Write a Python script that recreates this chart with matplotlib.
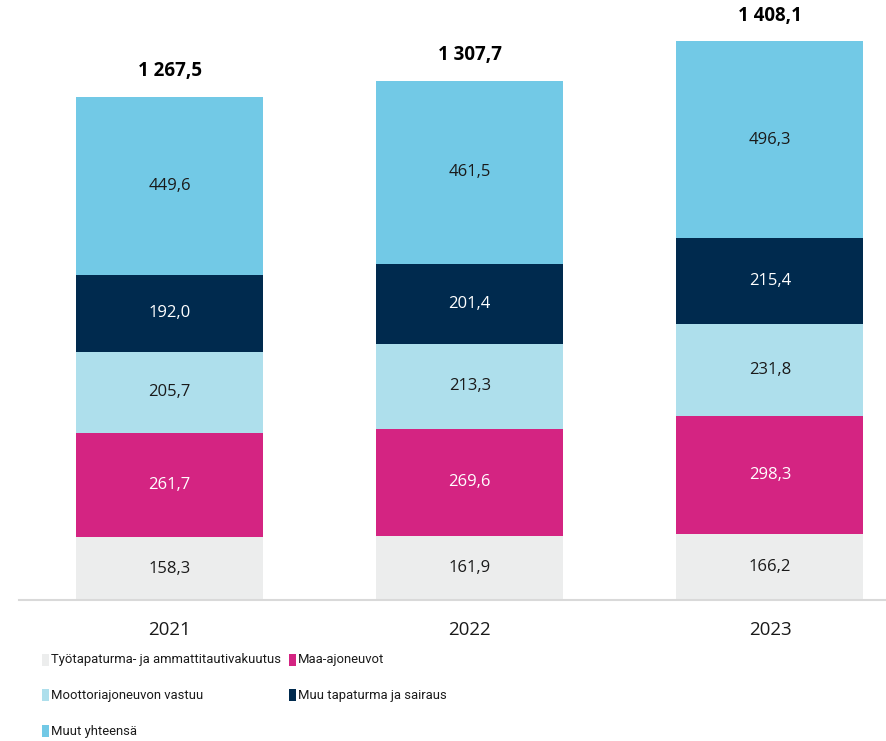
import matplotlib.pyplot as plt
from matplotlib.patches import Rectangle
import numpy as np

plt.rcParams['font.family'] = ['Open Sans', 'DejaVu Sans']

years = ["2021", "2022", "2023"]
series_names = [
    "Työtapaturma- ja ammattitautivakuutus",
    "Maa-ajoneuvot",
    "Moottoriajoneuvon vastuu",
    "Muu tapaturma ja sairaus",
    "Muut yhteensä",
]
tyotapaturma = [158.3, 161.9, 166.2]
maa_ajoneuvot = [261.7, 269.6, 298.3]
moottori = [205.7, 213.3, 231.8]
muu_tapaturma = [192.0, 201.4, 215.4]
muut = [449.6, 461.5, 496.3]
totals = [1267.5, 1307.7, 1408.1]

colors = ["#ECEDED", "#D42482", "#AEDFEC", "#002A4E", "#72C9E6"]
text_colors = ["#1a1a1a", "white", "#1a1a1a", "white", "#1a1a1a"]

def fi(v):
    s = f"{v:,.1f}"
    return s.replace(",", " ").replace(".", ",")

W, H = 887, 741
fig = plt.figure(figsize=(W / 100, H / 100), dpi=100)
ax = fig.add_axes([0.0214, 0.1903, 0.9786, 0.8036])

x = np.arange(len(years))
bottom = np.zeros(len(years))
for vals, col, tc in zip([tyotapaturma, maa_ajoneuvot, moottori, muu_tapaturma, muut], colors, text_colors):
    ax.bar(x, vals, width=0.623, bottom=bottom, color=col)
    for xi, b, v in zip(x, bottom, vals):
        ax.text(xi, b + v / 2, fi(v), ha="center", va="center", fontsize=12, color=tc)
    bottom += np.array(vals)

for xi, t in zip(x, totals):
    ax.text(xi, t + 64, fi(t), ha="center", va="center", fontsize=13.5, fontweight="bold", color="black")

ax.set_xlim(-0.502, 2.39)
ax.set_ylim(0, 1500)
ax.set_xticks(x)
ax.set_xticklabels(years, fontsize=13.5, color="#1a1a1a")
ax.tick_params(axis="x", length=0, pad=15)
ax.set_yticks([])
for s in ["top", "right", "left"]:
    ax.spines[s].set_visible(False)
ax.spines["bottom"].set_color("#d9d9d9")
ax.spines["bottom"].set_linewidth(1.5)

# legend: two columns, drawn by hand (pixel layout of the original)
col_x = [42, 289]
row_y = [659.5, 695, 731]
for k, name in enumerate(series_names):
    cx = col_x[k % 2]
    cy = row_y[k // 2]
    fig.add_artist(Rectangle((cx / W, 1 - (cy + 6) / H), 7 / W, 12 / H,
                             transform=fig.transFigure, color=colors[k], lw=0))
    fig.text((cx + 9) / W, 1 - cy / H, name, ha="left", va="center",
             fontsize=9.4, color="#1a1a1a", family=["Roboto", "Open Sans"])

fig.savefig("out.png", dpi=100)
